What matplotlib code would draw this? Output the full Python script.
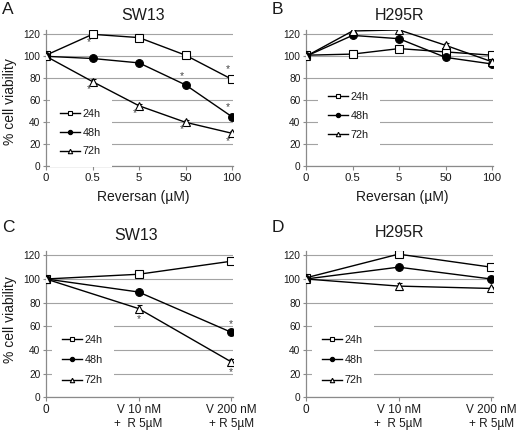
import matplotlib
matplotlib.use("Agg")
import matplotlib.pyplot as plt

plt.rcParams['font.family'] = ['Liberation Sans', 'DejaVu Sans']

# ---- data ----
series_labels = ["24h", "48h", "72h"]

reversan_ticks = ["0", "0.5", "5", "50", "100"]
combo_ticks = ["0", "V 10 nM\n+  R 5\u00b5M", "V 200 nM\n+ R 5\u00b5M"]

# panel A: SW13, reversan dose
sw13_rev = [
    [101, 120, 117, 101, 79],
    [100, 98, 94, 74, 45],
    [100, 77, 55, 40, 30],
]
sw13_rev_err = [
    [1, 1, 1, 1, 1],
    [1, 1, 1, 1, 1],
    [1, 2, 2, 2, 2],
]
sw13_rev_stars = [(1, 113), (1, 70), (2, 48), (3, 82), (3, 34), (4, 88), (4, 54), (4, 23)]

# panel B: H295R, reversan dose
h295_rev = [
    [101, 102, 107, 104, 101],
    [100, 119, 116, 99, 93],
    [100, 123, 124, 110, 95],
]
h295_rev_err = [
    [1, 1, 3, 3, 1],
    [1, 1, 1, 1, 1],
    [1, 1, 1, 2, 1],
]

# panel C: SW13, vincristine + reversan
sw13_combo = [
    [100, 104, 115],
    [100, 89, 55],
    [100, 75, 30],
]
sw13_combo_err = [
    [1, 1, 1],
    [1, 1, 1],
    [1, 3, 2],
]
sw13_combo_stars = [(1, 66), (2, 62), (2, 21)]

# panel D: H295R, vincristine + reversan
h295_combo = [
    [101, 121, 110],
    [100, 110, 100],
    [100, 94, 92],
]
h295_combo_err = [
    [1, 1, 1],
    [1, 1, 1],
    [1, 3, 1],
]

W, H = 520, 433
fig = plt.figure(figsize=(W / 100, H / 100), dpi=100)

styles = [
    dict(marker='s', mfc='white', mec='black', ms=5.2),
    dict(marker='o', mfc='black', mec='black', ms=5.6),
    dict(marker='^', mfc='white', mec='black', ms=5.8),
]
GRID = '#a3a3a3'
SPINE = '#8a8a8a'
TXT = '#1a1a1a'


def px(x, y):
    return x / W, 1 - y / H


def panel(rect, values, errs, ticks, tick_fs, stars=None, star_dx=0.0,
          legend_xy=(0, 0), labelspacing=0.9):
    ax = fig.add_axes(rect)
    xs = list(range(len(ticks)))
    handles = []
    for vals, err, st, lab in zip(values, errs, styles, series_labels):
        ax.errorbar(xs, vals, yerr=err, color='black', lw=1.0, elinewidth=0.7,
                    capsize=1.8, capthick=0.7, mew=0.8, zorder=3, **st)
        h, = ax.plot([], [], color='black', lw=1.0, mew=0.8, label=lab, **st)
        handles.append(h)
    if stars:
        for sx, sy in stars:
            ax.text(sx + star_dx, sy, "*", ha='center', va='center',
                    fontsize=7.5, color='#444444', zorder=4)
    ax.set_xlim(0, len(ticks) - 1 + 0.02)
    ax.set_ylim(0, 124)
    ax.set_yticks(range(0, 121, 20))
    ax.set_xticks(xs)
    ax.set_xticklabels(ticks, fontsize=tick_fs, color=TXT)
    ax.tick_params(axis='y', labelsize=7.3, colors=SPINE, labelcolor=TXT,
                   length=2.5, width=0.8, pad=1.5)
    ax.tick_params(axis='x', colors=SPINE, labelcolor=TXT, length=3,
                   width=0.8, pad=2)
    ax.yaxis.grid(True, color=GRID, lw=0.8)
    ax.set_axisbelow(True)
    for s in ['top', 'right']:
        ax.spines[s].set_visible(False)
    for s in ['left', 'bottom']:
        ax.spines[s].set_color(SPINE)
        ax.spines[s].set_linewidth(0.9)
    ax.spines['left'].set_bounds(0, 124)
    for lbl in ax.get_xticklabels():
        lbl.set_clip_on(False)
    leg = ax.legend(handles=handles, loc='center left',
                    bbox_to_anchor=px(*legend_xy), bbox_transform=fig.transFigure,
                    fontsize=7.8, frameon=True, fancybox=False, borderpad=1.0,
                    borderaxespad=0, handlelength=1.85, handletextpad=0.2,
                    labelspacing=labelspacing, markerscale=0.55)
    leg.get_frame().set_facecolor('white')
    leg.get_frame().set_edgecolor('none')
    leg.get_frame().set_alpha(1)
    for t in leg.get_texts():
        t.set_color(TXT)
    return ax


# axes rectangles (figure fractions)
top_h = (166.3 - 29.9) / H
bot_h = (397.3 - 250.6) / H
wdt = (233 - 46) / W

axA = panel([46 / W, 1 - 166.3 / H, wdt, top_h], sw13_rev, sw13_rev_err,
            reversan_ticks, 8.2, stars=sw13_rev_stars, star_dx=-0.08,
            legend_xy=(49.6, 132.7), labelspacing=0.8)
axB = panel([306 / W, 1 - 166.3 / H, wdt, top_h], h295_rev, h295_rev_err,
            reversan_ticks, 8.2, legend_xy=(317.6, 116), labelspacing=0.85)
axC = panel([46 / W, 1 - 397.3 / H, wdt, bot_h], sw13_combo, sw13_combo_err,
            combo_ticks, 8.5, stars=sw13_combo_stars,
            legend_xy=(51.6, 360), labelspacing=0.95)
axD = panel([306 / W, 1 - 397.3 / H, wdt, bot_h], h295_combo, h295_combo_err,
            combo_ticks, 8.5, legend_xy=(311.6, 360), labelspacing=0.95)

# titles, panel letters and axis labels
for (x, y), s in zip([(143, 15), (399, 15), (136, 235), (400, 233)],
                     ["SW13", "H295R", "SW13", "H295R"]):
    fig.text(*px(x, y), s, ha='center', va='center', fontsize=11.5, color=TXT)

for (x, y), s in zip([(2, 9), (272, 9), (2, 228), (272, 227)], ["A", "B", "C", "D"]):
    fig.text(*px(x, y), s, ha='left', va='center', fontsize=12.5, color=TXT)

for (x, y) in [(10, 102), (10, 320)]:
    fig.text(*px(x, y), "% cell viability", ha='center', va='center',
             rotation=90, fontsize=10, color=TXT)

for (x, y) in [(143, 197), (402, 197)]:
    fig.text(*px(x, y), "Reversan (\u00b5M)", ha='center', va='center',
             fontsize=10, color=TXT)

fig.savefig("out.png", dpi=100)
